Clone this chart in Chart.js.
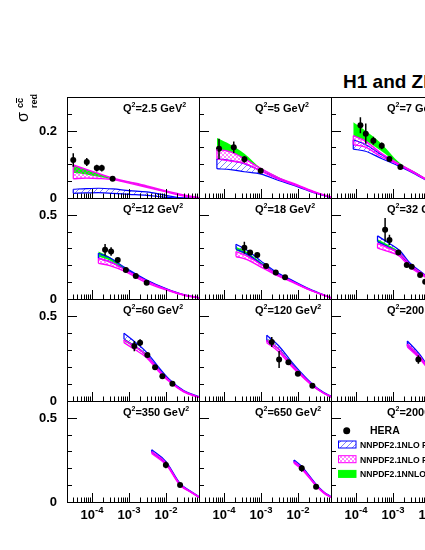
<!DOCTYPE html>
<html>
<head>
<meta charset="utf-8">
<script src="https://cdn.jsdelivr.net/npm/chart.js@4.4.0/dist/chart.umd.min.js"></script>
<style>
  html, body { margin: 0; padding: 0; width: 425px; height: 550px; overflow: hidden; background: #fff; }
  #page { position: relative; width: 425px; height: 550px; overflow: hidden; }
  #page canvas { position: absolute; }
  #title { position: absolute; left: 343px; top: 72px; font: bold 19px "Liberation Sans", Arial, sans-serif; line-height: 19px; white-space: nowrap; }
</style>
</head>
<body>
<div id="page">
  <div id="title">H1 and ZEUS</div>
</div>
<script>
// panel labels (Q^2 in GeV^2), left to right, top to bottom
const q2Values = ["2.5", "5", "7", "12", "18", "32", "60", "120", "200", "350", "650", "2000"];

// axis ticks
const yTickTop = [0, 0.2];
const yTickRest = [0, 0.5];
const xTickValues = [1e-4, 1e-3, 1e-2];
const xTickExps = ["-4", "-3", "-2"];

const legendLabels = ["HERA", "NNPDF2.1NLO FONLL-A", "NNPDF2.1NLO FONLL-B", "NNPDF2.1NNLO FONLL-C"];

// HERA charm data, one list per panel
const heraX = [
  [3.1e-5, 7.2e-5, 1.34e-4, 1.83e-4, 3.6e-4],
  [7.3e-5, 1.83e-4, 3.55e-4, 9.8e-4],
  [1.31e-4, 1.83e-4, 2.94e-4, 4.95e-4, 8.0e-4, 1.58e-3],
  [2.25e-4, 3.27e-4, 4.95e-4, 8.2e-4, 1.52e-3, 3.0e-3],
  [3.54e-4, 5.06e-4, 7.9e-4, 1.37e-3, 2.5e-3, 4.47e-3],
  [6.1e-4, 8.0e-4, 1.39e-3, 2.35e-3, 3.2e-3, 5.4e-3, 7.4e-3],
  [1.39e-3, 1.99e-3, 3.13e-3, 5.06e-3, 7.98e-3, 1.49e-2],
  [1.95e-3, 3.08e-3, 5.5e-3, 9.9e-3, 2.45e-2],
  [4.84e-3],
  [9.9e-3, 2.4e-2],
  [1.26e-2, 3.08e-2],
  []
];
const heraY = [
  [0.113, 0.107, 0.089, 0.089, 0.057],
  [0.146, 0.151, 0.115, 0.081],
  [0.216, 0.191, 0.170, 0.155, 0.116, 0.092],
  [0.292, 0.282, 0.232, 0.173, 0.137, 0.097],
  [0.305, 0.276, 0.262, 0.196, 0.157, 0.129],
  [0.411, 0.351, 0.276, 0.202, 0.192, 0.143, 0.103],
  [0.323, 0.343, 0.270, 0.198, 0.145, 0.101],
  [0.347, 0.244, 0.228, 0.161, 0.089],
  [0.244],
  [0.220, 0.101],
  [0.200, 0.091],
  []
];
const heraErr = [
  [0.020, 0.012, 0.010, 0.010, 0.004],
  [0.030, 0.017, 0.010, 0.008],
  [0.024, 0.030, 0.012, 0.010, 0.008, 0.006],
  [0.034, 0.025, 0.012, 0.008, 0.007, 0.006],
  [0.035, 0.012, 0.012, 0.008, 0.008, 0.008],
  [0.070, 0.030, 0.010, 0.008, 0.008, 0.008, 0.008],
  [0.030, 0.020, 0.012, 0.010, 0.015, 0.008],
  [0.030, 0.050, 0.010, 0.010, 0.008],
  [0.025],
  [0.020, 0.008],
  [0.020, 0.008],
  []
];

// theory bands: x knots and lower/upper edges
const bandX = [
  [3.1e-5, 7e-5, 1.5e-4, 3.6e-4, 1e-3, 3e-3, 1e-2, 0.03, 0.078],
  [6.4e-5, 1.5e-4, 3.5e-4, 1e-3, 3e-3, 1e-2, 0.03, 0.078],
  [8.4e-5, 1.8e-4, 4.5e-4, 1.5e-3, 4e-3, 1e-2, 0.03, 0.078],
  [1.48e-4, 3e-4, 8e-4, 3e-3, 1e-2, 0.03, 0.078],
  [2.1e-4, 4e-4, 1e-3, 2.5e-3, 6e-3, 0.02, 0.078],
  [3.8e-4, 8e-4, 1.5e-3, 3e-3, 6e-3, 0.015, 0.04, 0.078],
  [7.3e-4, 1.5e-3, 3e-3, 6e-3, 0.012, 0.03, 0.078],
  [1.43e-3, 3e-3, 6e-3, 0.012, 0.025, 0.05, 0.078],
  [2.44e-3, 5e-3, 0.01, 0.02, 0.04, 0.078],
  [4.1e-3, 0.01, 0.024, 0.05, 0.078],
  [7.8e-3, 0.0126, 0.031, 0.05, 0.078],
  []
];
// NNPDF2.1 NLO FONLL-A (blue)
const nloAHi = [
  [0.026, 0.028, 0.029, 0.027, 0.022, 0.018, 0.008, 0.0, 0.0],
  [0.116, 0.111, 0.102, 0.081, 0.057, 0.036, 0.016, 0.002],
  [0.173, 0.159, 0.131, 0.098, 0.074, 0.048, 0.020, 0.004],
  [0.272, 0.245, 0.185, 0.113, 0.062, 0.026, 0.008],
  [0.325, 0.293, 0.225, 0.162, 0.118, 0.060, 0.008],
  [0.375, 0.330, 0.288, 0.210, 0.158, 0.090, 0.035, 0.010],
  [0.399, 0.345, 0.286, 0.205, 0.130, 0.062, 0.025],
  [0.387, 0.325, 0.244, 0.168, 0.098, 0.050, 0.028],
  [0.353, 0.280, 0.190, 0.120, 0.065, 0.035],
  [0.310, 0.240, 0.111, 0.060, 0.032],
  [0.250, 0.212, 0.105, 0.060, 0.032],
  []
];
const nloALo = [
  [0.014, 0.015, 0.016, 0.014, 0.011, 0.008, 0.002, 0.0, 0.0],
  [0.087, 0.084, 0.078, 0.071, 0.052, 0.033, 0.014, 0.001],
  [0.145, 0.139, 0.119, 0.094, 0.071, 0.046, 0.018, 0.003],
  [0.242, 0.222, 0.176, 0.108, 0.059, 0.024, 0.007],
  [0.296, 0.268, 0.210, 0.152, 0.112, 0.056, 0.006],
  [0.341, 0.305, 0.268, 0.195, 0.148, 0.085, 0.032, 0.008],
  [0.363, 0.320, 0.270, 0.193, 0.120, 0.056, 0.022],
  [0.353, 0.305, 0.228, 0.155, 0.090, 0.045, 0.024],
  [0.323, 0.260, 0.180, 0.112, 0.060, 0.030],
  [0.295, 0.228, 0.103, 0.055, 0.028],
  [0.236, 0.200, 0.098, 0.055, 0.028],
  []
];
// NNPDF2.1 NLO FONLL-B (magenta)
const nloBHi = [
  [0.098, 0.085, 0.073, 0.059, 0.048, 0.036, 0.021, 0.009, 0.001],
  [0.145, 0.137, 0.117, 0.087, 0.060, 0.038, 0.017, 0.003],
  [0.185, 0.169, 0.135, 0.100, 0.075, 0.049, 0.020, 0.004],
  [0.242, 0.222, 0.172, 0.106, 0.058, 0.025, 0.008],
  [0.282, 0.258, 0.205, 0.153, 0.112, 0.057, 0.008],
  [0.331, 0.300, 0.272, 0.200, 0.153, 0.087, 0.034, 0.009],
  [0.359, 0.318, 0.268, 0.190, 0.122, 0.058, 0.023],
  [0.359, 0.305, 0.225, 0.158, 0.093, 0.047, 0.026],
  [0.335, 0.268, 0.184, 0.115, 0.062, 0.033],
  [0.300, 0.232, 0.106, 0.058, 0.030],
  [0.240, 0.204, 0.100, 0.057, 0.030],
  []
];
const nloBLo = [
  [0.057, 0.059, 0.058, 0.055, 0.044, 0.032, 0.018, 0.006, 0.0],
  [0.116, 0.110, 0.103, 0.080, 0.056, 0.035, 0.015, 0.002],
  [0.158, 0.151, 0.124, 0.097, 0.072, 0.047, 0.019, 0.003],
  [0.212, 0.198, 0.162, 0.096, 0.054, 0.022, 0.006],
  [0.252, 0.235, 0.190, 0.143, 0.106, 0.054, 0.006],
  [0.302, 0.280, 0.255, 0.186, 0.145, 0.083, 0.031, 0.007],
  [0.343, 0.300, 0.255, 0.180, 0.116, 0.054, 0.021],
  [0.343, 0.290, 0.215, 0.150, 0.088, 0.044, 0.023],
  [0.318, 0.255, 0.176, 0.110, 0.058, 0.029],
  [0.288, 0.222, 0.100, 0.054, 0.027],
  [0.230, 0.195, 0.095, 0.053, 0.027],
  []
];
// NNPDF2.1 NNLO FONLL-C (green)
const nnloHi = [
  [0.097, 0.085, 0.073, 0.059, 0.048, 0.036, 0.021, 0.009, 0.001],
  [0.178, 0.158, 0.132, 0.088, 0.062, 0.037, 0.016, 0.003],
  [0.225, 0.200, 0.165, 0.105, 0.077, 0.050, 0.020, 0.004],
  [0.282, 0.250, 0.185, 0.110, 0.060, 0.025, 0.008],
  [0.311, 0.282, 0.218, 0.158, 0.116, 0.058, 0.008],
  [0.355, 0.318, 0.280, 0.205, 0.155, 0.088, 0.034, 0.009],
  [0.367, 0.325, 0.275, 0.198, 0.125, 0.059, 0.024],
  [0.365, 0.312, 0.235, 0.162, 0.094, 0.048, 0.026],
  [0.340, 0.272, 0.186, 0.116, 0.063, 0.033],
  [0.303, 0.234, 0.107, 0.058, 0.030],
  [0.244, 0.206, 0.102, 0.058, 0.030],
  []
];
const nnloLo = [
  [0.075, 0.070, 0.063, 0.055, 0.045, 0.033, 0.019, 0.008, 0.0],
  [0.145, 0.136, 0.117, 0.085, 0.059, 0.035, 0.015, 0.002],
  [0.185, 0.170, 0.142, 0.100, 0.074, 0.048, 0.019, 0.003],
  [0.252, 0.228, 0.175, 0.106, 0.058, 0.024, 0.007],
  [0.288, 0.262, 0.205, 0.150, 0.112, 0.056, 0.006],
  [0.335, 0.300, 0.265, 0.195, 0.149, 0.085, 0.032, 0.008],
  [0.353, 0.312, 0.263, 0.188, 0.120, 0.056, 0.022],
  [0.352, 0.300, 0.225, 0.155, 0.090, 0.045, 0.024],
  [0.330, 0.262, 0.180, 0.112, 0.060, 0.030],
  [0.295, 0.228, 0.103, 0.055, 0.028],
  [0.236, 0.200, 0.098, 0.055, 0.028],
  []
];

// layout
const colX = [67, 199, 331, 463];
const rowY = [97, 198, 299, 401, 502];
const ML = 60, MR = 12, MT = 10, MB = 40;
const FONT = '"Liberation Sans", Arial, Helvetica, sans-serif';
const BLUE = "#0000ff", MAG = "#ff00ff", GREEN = "#00ff00";

function hatch(color, cross, size, lw) {
  const c = document.createElement("canvas");
  c.width = size; c.height = size;
  const g = c.getContext("2d");
  g.strokeStyle = color;
  g.lineWidth = lw;
  g.beginPath();
  for (let k = -1; k <= 1; k++) {
    g.moveTo(k * size, size); g.lineTo(k * size + size, 0);
    if (cross) { g.moveTo(k * size, 0); g.lineTo(k * size + size, size); }
  }
  g.stroke();
  return g.createPattern(c, "repeat");
}
const blueHatch = hatch("rgba(40,40,255,0.75)", false, 6, 0.8);
const pinkHatch = hatch("rgba(255,0,255,0.8)", true, 4, 0.6);

let pts = (xs, ys) => xs.map((x, i) => ({ x: x, y: ys[i] }));

function supText(ctx, parts, x, y) {
  // parts: [text, size, raise]
  for (const p of parts) {
    ctx.font = "bold " + p[1] + "px " + FONT;
    ctx.fillText(p[0], x, y - p[2]);
    x += ctx.measureText(p[0]).width;
  }
}

const panelPlugin = {
  id: "panel",
  afterDatasetsDraw(chart, args, o) {
    const ctx = chart.ctx, xs = chart.scales.x, ys = chart.scales.y, a = chart.chartArea;
    const i = o.idx;
    ctx.save();
    ctx.beginPath();
    ctx.rect(a.left, a.top, a.right - a.left, a.bottom - a.top);
    ctx.clip();
    // closing edges of the hatched bands
    if (bandX[i].length) {
      const px = xs.getPixelForValue(bandX[i][0]);
      ctx.lineWidth = 1.2;
      ctx.strokeStyle = BLUE;
      ctx.beginPath();
      ctx.moveTo(px, ys.getPixelForValue(nloALo[i][0]));
      ctx.lineTo(px, ys.getPixelForValue(nloAHi[i][0]));
      ctx.stroke();
      ctx.strokeStyle = MAG;
      ctx.beginPath();
      ctx.moveTo(px, ys.getPixelForValue(nloBLo[i][0]));
      ctx.lineTo(px, ys.getPixelForValue(nloBHi[i][0]));
      ctx.stroke();
    }
    // error bars
    ctx.strokeStyle = "#000";
    ctx.lineWidth = 1.5;
    ctx.beginPath();
    heraX[i].forEach((x, k) => {
      const px = xs.getPixelForValue(x);
      ctx.moveTo(px, ys.getPixelForValue(heraY[i][k] - heraErr[i][k]));
      ctx.lineTo(px, ys.getPixelForValue(heraY[i][k] + heraErr[i][k]));
    });
    ctx.stroke();
    ctx.restore();
  },
  afterDraw(chart, args, o) {
    const ctx = chart.ctx, xs = chart.scales.x, ys = chart.scales.y, a = chart.chartArea;
    const i = o.idx, col = i % 3, row = Math.floor(i / 3);
    const L = Math.round(a.left), T = Math.round(a.top), R = Math.round(a.right), B = Math.round(a.bottom);
    ctx.save();
    ctx.strokeStyle = "#000";
    ctx.lineWidth = 1;
    ctx.strokeRect(L + 0.5, T + 0.5, R - L, B - T);

    // y ticks
    const yStep = row === 0 ? 0.05 : 0.1;
    const yMaj = row === 0 ? yTickTop : yTickRest;
    ctx.beginPath();
    for (let k = 0; k * yStep <= ys.max + 1e-9; k++) {
      const v = k * yStep;
      const py = Math.round(ys.getPixelForValue(v)) + 0.5;
      const major = yMaj.some((m) => Math.abs(m - v) < 1e-9);
      ctx.moveTo(L, py);
      ctx.lineTo(L + (major ? 10 : 5), py);
    }
    // x ticks
    for (let d = -5; d <= -1; d++) {
      for (let k = 1; k <= 9; k++) {
        const v = k * Math.pow(10, d);
        if (v < xs.min || v > xs.max) continue;
        const px = Math.round(xs.getPixelForValue(v)) + 0.5;
        ctx.moveTo(px, B);
        ctx.lineTo(px, B - (k === 1 ? 9 : 4.5));
      }
    }
    ctx.stroke();

    ctx.fillStyle = "#000";
    ctx.textBaseline = "alphabetic";
    // panel label
    supText(ctx, [["Q", 11, 0], ["2", 7, 5], ["=" + q2Values[i] + " GeV", 11, 0], ["2", 7, 5]], L + 56, T + 15);

    // y tick labels
    if (col === 0) {
      ctx.font = "bold 13px " + FONT;
      ctx.textAlign = "right";
      ctx.textBaseline = "middle";
      yMaj.forEach((v) => ctx.fillText(String(v), L - 10, ys.getPixelForValue(v) + 0.5));
      ctx.textAlign = "left";
      ctx.textBaseline = "alphabetic";
    }
    // x tick labels
    if (row === 3) {
      xTickValues.forEach((v, k) => {
        ctx.font = "bold 13px " + FONT;
        const w1 = ctx.measureText("10").width;
        ctx.font = "bold 9.5px " + FONT;
        const w2 = ctx.measureText(xTickExps[k]).width;
        const x0 = xs.getPixelForValue(v) - (w1 + w2) / 2;
        supText(ctx, [["10", 13, 0], [xTickExps[k], 9.5, 6]], x0, B + 17);
      });
    }
    // y-axis title
    if (i === 0) {
      ctx.save();
      ctx.translate(L - 39, T + 25);
      ctx.rotate(-Math.PI / 2);
      ctx.font = "16px " + FONT;
      ctx.fillText("\u03c3", 0, 0);
      ctx.font = "bold 9px " + FONT;
      ctx.fillText("cc", 14, -5.5);
      const cw = ctx.measureText("c").width;
      ctx.fillText("red", 14, 9);
      ctx.lineWidth = 1;
      ctx.beginPath();
      ctx.moveTo(14 + cw, -11.5);
      ctx.lineTo(14 + 2 * cw, -11.5);
      ctx.stroke();
      ctx.restore();
    }
    // legend
    if (i === 11) {
      ctx.beginPath();
      ctx.arc(L + 15.7, T + 29.7, 3.5, 0, 2 * Math.PI);
      ctx.fill();
      ctx.font = "bold 10.5px " + FONT;
      ctx.fillText(legendLabels[0], L + 39, T + 33);
      const boxes = [[blueHatch, BLUE], [pinkHatch, MAG], [GREEN, GREEN]];
      boxes.forEach((b, k) => {
        const by = T + 40 + k * 14.7;
        ctx.fillStyle = b[0];
        ctx.fillRect(L + 7.5, by, 17.5, 7);
        ctx.strokeStyle = b[1];
        ctx.lineWidth = 1;
        ctx.strokeRect(L + 7.5, by, 17.5, 7);
        ctx.fillStyle = "#000";
        ctx.font = "bold 8.6px " + FONT;
        ctx.fillText(legendLabels[k + 1], L + 29, by + 7);
      });
    }
    ctx.restore();
  }
};

const page = document.getElementById("page");
for (let i = 0; i < 12; i++) {
  const col = i % 3, row = Math.floor(i / 3);
  const w = colX[col + 1] - colX[col], h = rowY[row + 1] - rowY[row];
  const cv = document.createElement("canvas");
  cv.width = w + ML + MR;
  cv.height = h + MT + MB;
  cv.style.left = (colX[col] - ML) + "px";
  cv.style.top = (rowY[row] - MT) + "px";
  page.appendChild(cv);

  const band = (ys, color, width, fill, bg) => ({
    data: pts(bandX[i], ys),
    borderColor: color,
    borderWidth: width,
    backgroundColor: bg,
    fill: fill,
    pointRadius: 0,
    cubicInterpolationMode: "monotone",
  });

  new Chart(cv, {
    type: "line",
    data: {
      datasets: [
        {
          data: pts(heraX[i], heraY[i]),
          showLine: false,
          pointRadius: 3,
          pointBackgroundColor: "#000",
          pointBorderWidth: 0,
        },
        band(nloBHi[i], MAG, 1.4, "+1", pinkHatch),
        band(nloBLo[i], MAG, 1.4, false, "transparent"),
        band(nloAHi[i], BLUE, 1.2, "+1", blueHatch),
        band(nloALo[i], BLUE, 1.2, false, "transparent"),
        band(nnloHi[i], "transparent", 1, "+1", GREEN),
        band(nnloLo[i], "transparent", 1, false, "transparent"),
      ],
    },
    options: {
      responsive: false,
      animation: false,
      events: [],
      devicePixelRatio: 1,
      layout: { padding: { left: ML, right: MR, top: MT, bottom: MB } },
      scales: {
        x: { type: "logarithmic", min: 2.1e-5, max: 0.078, display: false },
        y: { min: 0, max: row === 0 ? 0.3 : 0.6, display: false },
      },
      plugins: {
        legend: { display: false },
        tooltip: { enabled: false },
        panel: { idx: i },
      },
    },
    plugins: [panelPlugin],
  });
}
</script>
</body>
</html>
